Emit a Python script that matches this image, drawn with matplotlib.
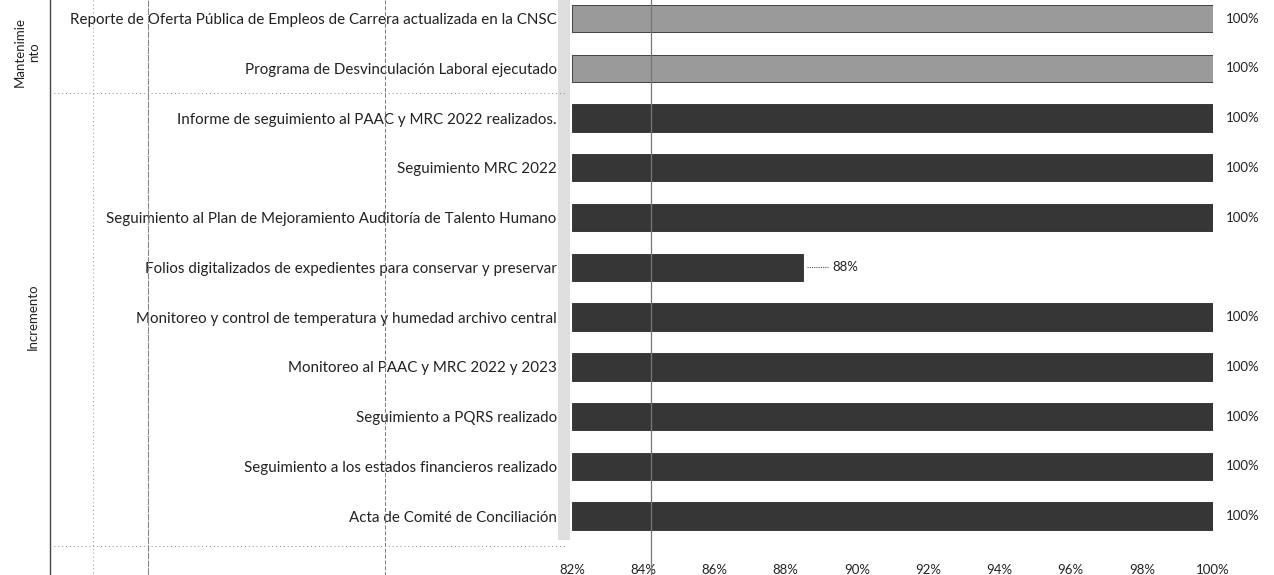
import matplotlib
matplotlib.use('Agg')
import matplotlib.pyplot as plt
from matplotlib.lines import Line2D
from matplotlib.patches import Rectangle

# datos de la gráfica (de arriba hacia abajo)
categorias = [
    'Reporte de Oferta Pública de Empleos de Carrera actualizada en la CNSC',
    'Programa de Desvinculación Laboral ejecutado',
    'Informe de seguimiento al PAAC y MRC 2022 realizados.',
    'Seguimiento MRC 2022',
    'Seguimiento al Plan de Mejoramiento Auditoría de Talento Humano',
    'Folios digitalizados de expedientes para conservar y preservar',
    'Monitoreo y control de temperatura y humedad archivo central',
    'Monitoreo al PAAC y MRC 2022 y 2023',
    'Seguimiento a PQRS realizado',
    'Seguimiento a los estados financieros realizado',
    'Acta de Comité de Conciliación',
]
grupos = ['Mantenimiento'] * 2 + ['Incremento'] * 9
grupo_textos = {'Mantenimiento': 'Mantenimie\nnto', 'Incremento': 'Incremento'}
valores = [100, 100, 100, 100, 100, 88.5, 100, 100, 100, 100, 100]
etiquetas = ['100%', '100%', '100%', '100%', '100%', '88%', '100%', '100%', '100%', '100%', '100%']
ticks = [82, 84, 86, 88, 90, 92, 94, 96, 98, 100]
colores = {'Mantenimiento': '#9a9a9a', 'Incremento': '#363636'}

W, H = 1274, 575
fig = plt.figure(figsize=(W / 100, H / 100), dpi=100)
plt.rcParams['font.family'] = ['Lato', 'DejaVu Sans']

x0, x1 = 572, 1213   # pixeles de 82% y 100%
ytop, ybot = 0, 546
ax = fig.add_axes([x0 / W, (H - ybot) / H, (x1 - x0) / W, (ybot - ytop) / H])

pos = list(range(len(categorias)))
ax.barh(pos, [v - 82 for v in valores], left=82, height=0.55,
        color=[colores[g] for g in grupos], edgecolor='#2a2a2a', linewidth=0.6)

for i, (v, lab) in enumerate(zip(valores, etiquetas)):
    if v < 100:
        ax.plot([v + 0.1, v + 0.7], [i, i], color='#555555', lw=0.8, ls=(0, (1, 1)))
        ax.text(v + 0.8, i, lab, va='center', ha='left', fontsize=9.5, color='#222222')
    else:
        ax.plot([v + 0.08, v + 0.08], [i - 0.22, i + 0.22], color='#555555', lw=0.8)
        ax.text(v + 0.35, i, lab, va='center', ha='left', fontsize=9.5, color='#222222')

ax.set_xlim(82, 100)
ax.set_ylim(10.6, -0.372)
ax.set_xticks(ticks)
ax.set_xticklabels([f'{t}%' for t in ticks], fontsize=9.5, color='#222222')
ax.set_yticks(pos)
ax.set_yticklabels(categorias, fontsize=10.9, color='#222222')
ax.tick_params(length=0, pad=11)
ax.tick_params(axis='x', pad=13)
for s in ax.spines.values():
    s.set_visible(False)
ax.patch.set_alpha(0)

# pared gris a la izquierda de las barras
fig.add_artist(Rectangle((558 / W, (H - 540) / H), 12 / W, 540 / H,
                         transform=fig.transFigure, facecolor='#c8c8c8',
                         edgecolor='none', alpha=0.6, zorder=0))

# líneas de la tabla de grupos
def vline(x, y0, y1, **kw):
    fig.add_artist(Line2D([x / W, x / W], [1 - y0 / H, 1 - y1 / H], transform=fig.transFigure, **kw))

def hline(y, xa, xb, **kw):
    fig.add_artist(Line2D([xa / W, xb / W], [1 - y / H, 1 - y / H], transform=fig.transFigure, **kw))

vline(50, 0, 575, color='#444444', lw=1.0)
vline(93, 0, 575, color='#999999', lw=0.7, ls=(0, (1, 3)))
vline(148, 0, 575, color='#888888', lw=0.8, ls=(0, (6, 1)))
vline(385, 0, 575, color='#777777', lw=0.7, ls=(0, (4, 2)))
vline(651, 0, 575, color='#777777', lw=0.9)
hline(93, 50, 565, color='#888888', lw=0.7, ls=(0, (1, 3)))
hline(546, 50, 565, color='#888888', lw=0.7, ls=(0, (1, 3)))

# etiquetas de grupo
fig.text(27 / W, 1 - 52 / H, grupo_textos['Mantenimiento'], rotation=90, ha='center',
         va='center', fontsize=9.5, color='#222222', linespacing=1.3)
fig.text(33 / W, 1 - 317 / H, grupo_textos['Incremento'], rotation=90, ha='center',
         va='center', fontsize=9.5, color='#222222')

fig.savefig('out.png', dpi=100)
